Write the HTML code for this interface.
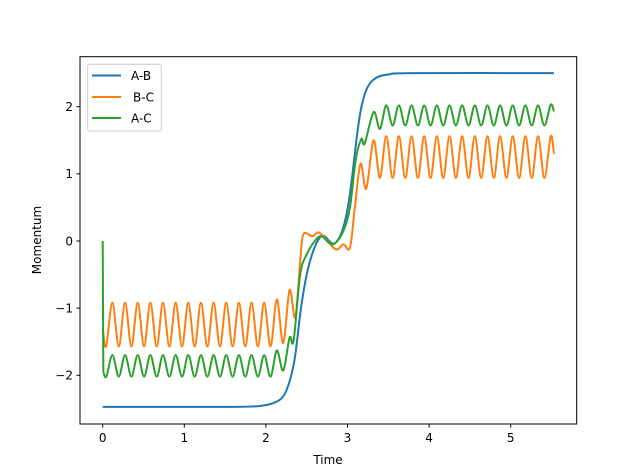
<!DOCTYPE html>
<html><head><meta charset="utf-8"><style>
body{margin:0;background:#fff;}
svg{display:block;font-family:"DejaVu Sans","Liberation Sans",sans-serif;}
</style></head><body>
<svg id="chart" width="640" height="476">
<rect x="0" y="0" width="640" height="476" fill="#fff"/>
<g id="plot"></g>
<rect x="80" y="56.7" width="496.7" height="367.3" fill="none" stroke="#000" stroke-width="1"/>
<g id="xt"></g>
<g id="yt"></g>
<text x="328" y="464" font-size="12" text-anchor="middle">Time</text>
<text x="0" y="0" font-size="12" text-anchor="middle" transform="translate(41,240) rotate(-90)">Momentum</text>
<g>
<rect x="87.7" y="64.3" width="73.6" height="66.7" rx="2" fill="#fff" fill-opacity="0.8" stroke="#ccc"/>
<line x1="92" y1="75.5" x2="121" y2="75.5" stroke="#1f77b4" stroke-width="2"/>
<text x="131" y="80" font-size="12">A-B</text>
<line x1="92" y1="97" x2="121" y2="97" stroke="#ff7f0e" stroke-width="2"/>
<text x="133" y="101.5" font-size="12">B-C</text>
<line x1="92" y1="118" x2="121" y2="118" stroke="#2ca02c" stroke-width="2"/>
<text x="131" y="122.5" font-size="12">A-C</text>
</g>
</svg>
<script>
const xTicks=[0,1,2,3,4,5];
const yTicks=[-2,-1,0,1,2];
const abSeries=[[0,-2.47],[1.5,-2.47],[1.9,-2.46],[2.1,-2.41],[2.22,-2.3],[2.3,-2.05],[2.36,-1.7],[2.43,-1.0],[2.5,-0.5],[2.58,-0.15],[2.66,0.05],[2.72,0.07],[2.82,-0.04],[2.9,0.05],[2.97,0.3],[3.03,0.7],[3.08,1.2],[3.13,1.7],[3.18,2.05],[3.25,2.3],[3.35,2.43],[3.5,2.48],[3.8,2.5],[5.53,2.5]];
const bcSeries=[[0,-1.3],[0.042,-1.57],[0.119,-0.92],[0.197,-1.57],[0.274,-0.92],[0.352,-1.57],[0.429,-0.92],[0.507,-1.57],[0.584,-0.92],[0.662,-1.57],[0.739,-0.92],[0.817,-1.57],[0.894,-0.92],[0.972,-1.57],[1.049,-0.92],[1.127,-1.57],[1.204,-0.92],[1.282,-1.57],[1.359,-0.92],[1.437,-1.57],[1.514,-0.92],[1.592,-1.57],[1.669,-0.92],[1.747,-1.57],[1.824,-0.92],[1.902,-1.57],[1.979,-0.92],[2.057,-1.57],[2.134,-0.87],[2.212,-1.52],[2.29,-0.73],[2.36,-1.14],[2.42,-0.3],[2.46,0.1],[2.57,0.07],[2.66,0.12],[2.85,-0.12],[2.95,-0.05],[3.03,-0.1],[3.09,0.5],[3.16,1.15],[3.23,0.78],[3.32,1.5],[3.397,0.94],[3.475,1.56],[3.553,0.94],[3.63,1.56],[3.708,0.94],[3.785,1.56],[3.863,0.94],[3.94,1.56],[4.018,0.94],[4.095,1.56],[4.173,0.94],[4.25,1.56],[4.328,0.94],[4.405,1.56],[4.483,0.94],[4.56,1.56],[4.638,0.94],[4.715,1.56],[4.793,0.94],[4.87,1.56],[4.948,0.94],[5.025,1.56],[5.103,0.94],[5.18,1.56],[5.258,0.94],[5.335,1.56],[5.413,0.94],[5.49,1.56],[5.53,1.3]];
const acSeries=[[0,0],[0.008,-1.95],[0.045,-2.02],[0.119,-1.70],[0.197,-2.02],[0.274,-1.70],[0.352,-2.02],[0.429,-1.70],[0.507,-2.02],[0.584,-1.70],[0.662,-2.02],[0.739,-1.70],[0.817,-2.02],[0.894,-1.70],[0.972,-2.02],[1.049,-1.70],[1.127,-2.02],[1.204,-1.70],[1.282,-2.02],[1.359,-1.70],[1.437,-2.02],[1.514,-1.70],[1.592,-2.02],[1.669,-1.70],[1.747,-2.02],[1.824,-1.70],[1.902,-2.02],[1.979,-1.70],[2.057,-2.02],[2.134,-1.63],[2.212,-1.93],[2.29,-1.44],[2.34,-1.48],[2.42,-0.5],[2.5,-0.2],[2.6,0.0],[2.68,0.07],[2.82,-0.05],[2.95,0.15],[3.03,0.5],[3.1,1.2],[3.17,1.52],[3.21,1.45],[3.32,1.92],[3.397,1.67],[3.475,2.02],[3.553,1.72],[3.63,2.02],[3.708,1.72],[3.785,2.02],[3.863,1.72],[3.94,2.02],[4.018,1.72],[4.095,2.02],[4.173,1.72],[4.25,2.02],[4.328,1.72],[4.405,2.02],[4.483,1.72],[4.56,2.02],[4.638,1.72],[4.715,2.02],[4.793,1.72],[4.87,2.02],[4.948,1.72],[5.025,2.02],[5.103,1.72],[5.18,2.02],[5.258,1.72],[5.335,2.02],[5.413,1.72],[5.49,2.03],[5.53,1.93]];
const NS='http://www.w3.org/2000/svg';
function xs(t){return 102.7+t*81.6;}
function ys(v){return 241-v*67.15;}
function pathOf(d,straightFirst){
  const all=d.map(a=>[xs(a[0]),ys(a[1])]);
  let s='M'+all[0][0].toFixed(2)+','+all[0][1].toFixed(2);
  let p=all;
  if(straightFirst){
    s+='L'+all[1][0].toFixed(2)+','+all[1][1].toFixed(2);
    p=all.slice(1);
  }
  for(let i=0;i<p.length-1;i++){
    const p0=p[Math.max(0,i-1)],p1=p[i],p2=p[i+1],p3=p[Math.min(p.length-1,i+2)];
    const c1x=p1[0]+(p2[0]-p0[0])/6,c1y=p1[1]+(p2[1]-p0[1])/6;
    const c2x=p2[0]-(p3[0]-p1[0])/6,c2y=p2[1]-(p3[1]-p1[1])/6;
    s+='C'+c1x.toFixed(2)+','+c1y.toFixed(2)+' '+c2x.toFixed(2)+','+c2y.toFixed(2)+' '+p2[0].toFixed(2)+','+p2[1].toFixed(2);
  }
  return s;
}
const plot=document.getElementById('plot');
function addLine(d,color,name,straightFirst){
  const el=document.createElementNS(NS,'path');
  el.setAttribute('d',pathOf(d,straightFirst));
  el.setAttribute('fill','none');
  el.setAttribute('stroke',color);
  el.setAttribute('stroke-width','2');
  el.setAttribute('stroke-linejoin','round');
  
  
  plot.appendChild(el);
}
addLine(abSeries,'#1f77b4','series-a-b',false);
addLine(bcSeries,'#ff7f0e','series-b-c',false);
addLine(acSeries,'#2ca02c','series-a-c',true);
const xt=document.getElementById('xt');
xTicks.forEach(t=>{
  const l=document.createElementNS(NS,'line');
  l.setAttribute('x1',xs(t));l.setAttribute('x2',xs(t));
  l.setAttribute('y1',424);l.setAttribute('y2',427.5);
  l.setAttribute('stroke','#000');
  
  
  xt.appendChild(l);
  const tx=document.createElementNS(NS,'text');
  tx.setAttribute('x',xs(t));tx.setAttribute('y',442);
  tx.setAttribute('font-size','12');tx.setAttribute('text-anchor','middle');
  tx.textContent=String(t);
  
  
  xt.appendChild(tx);
});
const yt=document.getElementById('yt');
yTicks.forEach(v=>{
  const l=document.createElementNS(NS,'line');
  l.setAttribute('x1',76.5);l.setAttribute('x2',80);
  l.setAttribute('y1',ys(v));l.setAttribute('y2',ys(v));
  l.setAttribute('stroke','#000');
  
  
  yt.appendChild(l);
  const tx=document.createElementNS(NS,'text');
  tx.setAttribute('x',73);tx.setAttribute('y',ys(v)+4.3);
  tx.setAttribute('font-size','12');tx.setAttribute('text-anchor','end');
  tx.textContent=v<0?'\u2212'+Math.abs(v):String(v);
  
  
  yt.appendChild(tx);
});
</script>
</body></html>
